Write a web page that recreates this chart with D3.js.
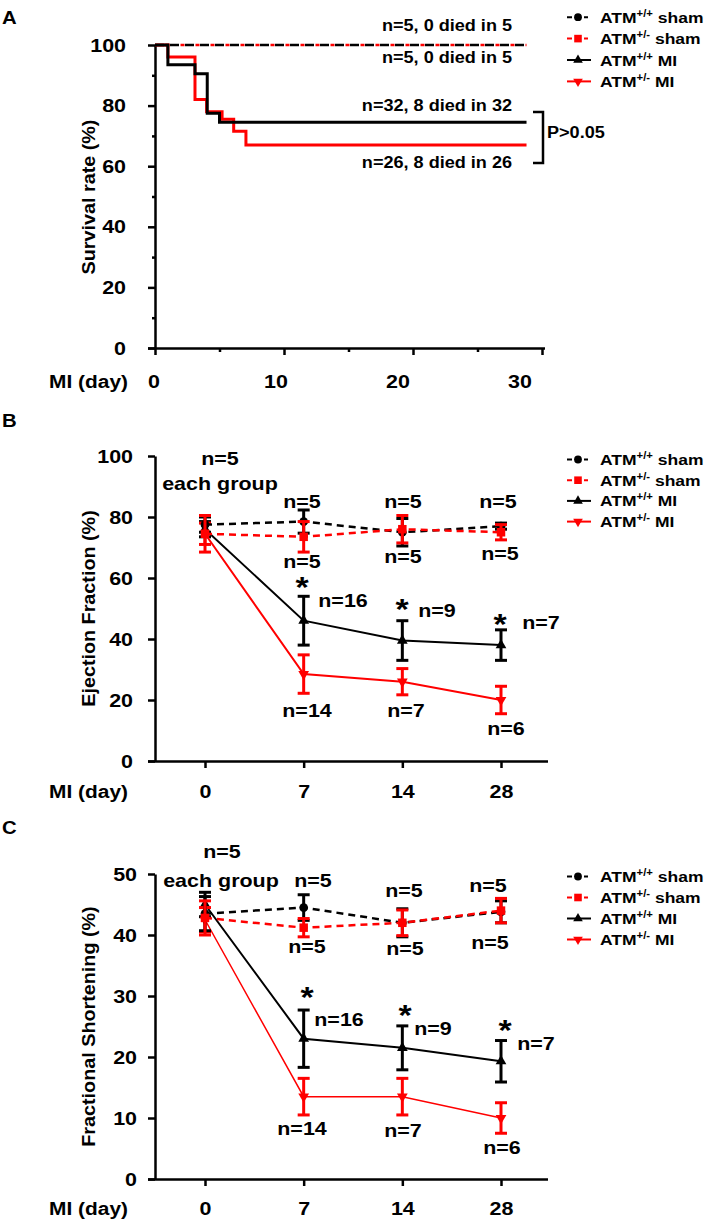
<!DOCTYPE html>
<html>
<head>
<meta charset="utf-8">
<script src="https://cdn.jsdelivr.net/npm/d3@7"></script>
<style>
  body { margin: 0; background: #fff; }
  svg { display: block; font-family: 'Liberation Sans', Arial, sans-serif; font-weight: bold; }
  text { fill: #000; white-space: pre; }
  .axis path, .axis line { stroke: #000; stroke-width: 2.5; }
  .axis text { font-family: 'Liberation Sans', Arial, sans-serif; font-weight: bold; font-size: 19px; fill: #000; }
</style>
</head>
<body>
<div id="chart"></div>
<script>
// ---------------------------------------------------------------
// Data.
// Panel A: Kaplan-Meier survival (%), step times in days.
const survWtMiDays = [0, 1, 3.1, 4.05, 5, 28.8];
const survWtMi = [100, 93.5, 90.5, 77.5, 74.5, 74.5];
const survHetMiDays = [0, 1, 3.1, 4, 5.2, 6.1, 7.05, 28.8];
const survHetMi = [100, 96, 82, 78, 75.5, 71.5, 67, 67];
const survShamDays = [0, 28.8];
const survSham = [100, 100];
const survTicks = [0, 10, 20, 30];
const survNotes = ['n=5, 0 died in 5', 'n=5, 0 died in 5', 'n=32, 8 died in 32', 'n=26, 8 died in 26'];
const survP = 'P>0.05';

// Panels B and C: MI day categories.
const days = ['0', '7', '14', '28'];

// Ejection fraction (%), mean and error.
const efShamWt = [77.5, 78.5, 75, 77];
const efShamWtErr = [2.5, 3.8, 4.5, 1];
const efShamHet = [74.5, 73.5, 76, 75];
const efShamHetErr = [6, 5, 4.5, 2.5];
const efMiWt = [76, 46, 39.5, 38];
const efMiWtErr = [2.5, 8, 6.5, 5];
const efMiHet = [74.5, 28.5, 26, 20];
const efMiHetErr = [3.5, 6.3, 4.3, 4.5];

// Fractional shortening (%), mean and error.
const fsShamWt = [43.5, 44.5, 42, 43.8];
const fsShamWtErr = [2.8, 2.1, 2.3, 1.8];
const fsShamHet = [42.8, 41.2, 42, 44];
const fsShamHetErr = [2.8, 1.5, 2.1, 2];
const fsMiWt = [45, 23, 21.5, 19.3];
const fsMiWtErr = [2, 4.7, 3.6, 3.4];
const fsMiHet = [42.5, 13.5, 13.5, 10];
const fsMiHetErr = [2, 3, 3, 2.5];

const efTicks = [0, 20, 40, 60, 80, 100];
const fsTicks = [0, 10, 20, 30, 40, 50];

// n labels per panel.
const shamNotes = ['n=5', 'each group'];
const miWtNotes = ['n=16', 'n=9', 'n=7'];
const miHetNotes = ['n=14', 'n=7', 'n=6'];

const legendLabels = [
  ['ATM', '+/+', ' sham'],
  ['ATM', '+/-', ' sham'],
  ['ATM', '+/+', ' MI'],
  ['ATM', '+/-', ' MI'],
];

// ---------------------------------------------------------------
const RED = '#ff0000';
const W = 709, H = 1223;
const SX = 1.13; // the figure's lettering is horizontally stretched

const groups = [
  { color: '#000', dash: true, symbol: d3.symbolCircle, size: 60, rot: 0 },
  { color: RED, dash: true, symbol: d3.symbolSquare, size: 72, rot: 0 },
  { color: '#000', dash: false, symbol: d3.symbolTriangle, size: 50, rot: 0 },
  { color: RED, dash: false, symbol: d3.symbolTriangle, size: 50, rot: 180 },
];

const svg = d3.select('#chart').append('svg').attr('width', W).attr('height', H);
svg.append('rect').attr('width', W).attr('height', H).attr('fill', '#fff');

function label(g, x, y, s, size, anchor) {
  return g.append('text')
    .attr('transform', `translate(${x},${y}) scale(${SX},1)`)
    .attr('text-anchor', anchor || 'start')
    .style('font-size', size + 'px')
    .text(s);
}

function yTitle(g, x, y, s) {
  g.append('text')
    .attr('transform', `translate(${x},${y}) rotate(-90) scale(${SX},1)`)
    .attr('text-anchor', 'middle')
    .style('font-size', '17.5px')
    .text(s);
}

function stretchTicks(axisG, left) {
  axisG.selectAll('.tick text').each(function () {
    const t = d3.select(this);
    if (left) t.attr('x', +t.attr('x') / SX);
    t.attr('transform', `scale(${SX},1)`);
  });
}

function star(g, x, yc) {
  // '*' sits high in the em box, shift baseline so the glyph centre lands on yc
  label(g, x, yc + 17, '*', 30, 'middle');
}

function legend(g, x, baseline0, step) {
  groups.forEach((s, k) => {
    const yb = baseline0 + k * step;
    const yc = yb - 5.5;
    g.append('line')
      .attr('x1', x).attr('x2', x + 24).attr('y1', yc).attr('y2', yc)
      .attr('stroke', s.color).attr('stroke-width', 2)
      .attr('stroke-dasharray', s.dash ? '5,12,4,10' : null);
    g.append('path')
      .attr('d', d3.symbol(s.symbol, s.size * 0.8)())
      .attr('transform', `translate(${x + 11},${yc}) rotate(${s.rot})`)
      .attr('fill', s.color);
    const t = g.append('text')
      .attr('transform', `translate(${x + 33},${yb}) scale(${SX},1)`)
      .style('font-size', '15.5px');
    t.append('tspan').text(legendLabels[k][0]);
    t.append('tspan').text(legendLabels[k][1]).style('font-size', '10px').attr('dy', -6);
    t.append('tspan').text(legendLabels[k][2]).attr('dy', 6);
  });
}

// ---------------------------------------------------------------
// Panel A
(function panelA() {
  const g = svg.append('g');
  const x = d3.scaleLinear().domain([0, 30]).range([155, 542]);
  const xLab = d3.scaleLinear().domain([0, 30]).range([154, 520]);
  const y = d3.scaleLinear().domain([0, 100]).range([348, 45]);

  const gy = g.append('g').attr('class', 'axis').attr('transform', 'translate(155,0)')
    .call(d3.axisLeft(y).tickValues(d3.range(0, 101, 20)).tickSize(7).tickPadding(22).tickSizeOuter(0));
  stretchTicks(gy, true);
  g.append('g').attr('class', 'axis').attr('transform', 'translate(155,0)')
    .call(d3.axisLeft(y).tickValues(d3.range(10, 100, 20)).tickSize(3).tickFormat('').tickSizeOuter(0))
    .select('.domain').remove();

  const gx = g.append('g').attr('class', 'axis').attr('transform', 'translate(0,348)')
    .call(d3.axisBottom(x).tickValues(survTicks).tickSize(7).tickFormat('').tickSizeOuter(0));
  gx.select('.domain').attr('d', 'M148,0.5H545');
  g.append('g').attr('class', 'axis').attr('transform', 'translate(0,348)')
    .call(d3.axisBottom(x).tickValues([5, 15, 25]).tickSize(4).tickFormat('').tickSizeOuter(0))
    .select('.domain').remove();
  survTicks.forEach(v => label(g, xLab(v), 388, String(v), 19, 'middle'));

  label(g, 128, 388, 'MI (day)', 18.5, 'end');
  yTitle(g, 95, 197, 'Survival rate (%)');
  label(g, 2, 23.5, 'A', 18, 'start');

  const step = d3.line().curve(d3.curveStepAfter).x(d => x(d[0])).y(d => y(d[1]));
  const sham = d3.zip(survShamDays, survSham);
  g.append('path').attr('d', step(sham)).attr('fill', 'none')
    .attr('stroke', '#000').attr('stroke-width', 2.5).attr('stroke-dasharray', '9,6');
  g.append('path').attr('d', step(sham)).attr('fill', 'none')
    .attr('stroke', RED).attr('stroke-width', 2.5).attr('stroke-dasharray', '4,11')
    .attr('stroke-dashoffset', -10.5);
  g.append('path').attr('d', step(d3.zip(survHetMiDays, survHetMi))).attr('fill', 'none')
    .attr('stroke', RED).attr('stroke-width', 3);
  g.append('path').attr('d', step(d3.zip(survWtMiDays, survWtMi))).attr('fill', 'none')
    .attr('stroke', '#000').attr('stroke-width', 3);

  const noteBase = [31, 63, 111, 168];
  survNotes.forEach((s, i) => label(g, 512, noteBase[i], s, 16, 'end'));

  g.append('path').attr('d', 'M533,112H543V163H533').attr('fill', 'none')
    .attr('stroke', '#000').attr('stroke-width', 2.5);
  label(g, 547, 138, survP, 16, 'start');

  legend(g, 567, 22.7, 21.4);
})();

// ---------------------------------------------------------------
// Panels B and C
function linePanel(cfg) {
  const g = svg.append('g');
  const x = d3.scaleLinear().domain([0, 3]).range([205, 501]);
  const y = d3.scaleLinear().domain([0, cfg.max]).range([cfg.bottom, cfg.top]);

  const gy = g.append('g').attr('class', 'axis').attr('transform', 'translate(155,0)')
    .call(d3.axisLeft(y).tickValues(cfg.ticks).tickSize(7).tickPadding(cfg.yPad).tickSizeOuter(0));
  stretchTicks(gy, true);
  const gx = g.append('g').attr('class', 'axis').attr('transform', `translate(0,${cfg.bottom})`)
    .call(d3.axisBottom(x).tickValues([0, 1, 2, 3]).tickFormat(i => days[i])
      .tickSize(7).tickPadding(cfg.xPad).tickSizeOuter(0));
  gx.select('.domain').attr('d', 'M148,0.5H548');
  stretchTicks(gx, false);

  label(g, 128, cfg.bottom + cfg.xPad + 20.5, 'MI (day)', 18.5, 'end');
  yTitle(g, 95, (cfg.top + cfg.bottom) / 2, cfg.title);
  label(g, 2, cfg.letterY, cfg.letter, 18, 'start');

  const line = d3.line().x((d, i) => x(i)).y(d => y(d));
  const order = [2, 3, 0, 1];
  order.forEach(k => {
    const s = groups[k];
    const vals = cfg.series[k], errs = cfg.errors[k];
    g.append('path').attr('d', line(vals)).attr('fill', 'none')
      .attr('stroke', s.color)
      .attr('stroke-width', s.dash ? 2.5 : cfg.miWidth[k - 2])
      .attr('stroke-dasharray', s.dash ? '7,5' : null);
    const pts = g.append('g').selectAll('g').data(vals).join('g')
      .attr('transform', (d, i) => `translate(${x(i)},0)`);
    pts.append('line')
      .attr('y1', (d, i) => y(d - errs[i])).attr('y2', (d, i) => y(d + errs[i]))
      .attr('stroke', s.color).attr('stroke-width', 3);
    pts.append('line').attr('x1', -6).attr('x2', 6)
      .attr('y1', (d, i) => y(d + errs[i])).attr('y2', (d, i) => y(d + errs[i]))
      .attr('stroke', s.color).attr('stroke-width', 3);
    pts.append('line').attr('x1', -6).attr('x2', 6)
      .attr('y1', (d, i) => y(d - errs[i])).attr('y2', (d, i) => y(d - errs[i]))
      .attr('stroke', s.color).attr('stroke-width', 3);
    pts.append('path')
      .attr('d', d3.symbol(s.symbol, s.size)())
      .attr('transform', d => `translate(0,${y(d)}) rotate(${s.rot})`)
      .attr('fill', s.color);
  });

  cfg.notes.forEach(n => label(g, n[1], n[2], n[0], 19, 'middle'));
  cfg.stars.forEach(p => star(g, p[0], p[1]));
  legend(g, 567, cfg.legendY, cfg.legendStep);
}

linePanel({
  title: 'Ejection Fraction (%)', letter: 'B', letterY: 427,
  max: 100, ticks: efTicks, top: 456, bottom: 761, yPad: 15, xPad: 16.5,
  series: [efShamWt, efShamHet, efMiWt, efMiHet],
  errors: [efShamWtErr, efShamHetErr, efMiWtErr, efMiHetErr],
  miWidth: [2, 2],
  notes: [
    [shamNotes[0], 220, 465], [shamNotes[1], 220, 490],
    [shamNotes[0], 302, 508], [shamNotes[0], 302, 568],
    [shamNotes[0], 403, 508], [shamNotes[0], 403, 563],
    [shamNotes[0], 498, 508], [shamNotes[0], 500, 560],
    [miWtNotes[0], 343, 607], [miWtNotes[1], 437, 617], [miWtNotes[2], 541, 629],
    [miHetNotes[0], 307, 717], [miHetNotes[1], 406, 717], [miHetNotes[2], 506, 735],
  ],
  stars: [[302, 580], [402, 602], [500, 617]],
  legendY: 465, legendStep: 20.7,
});

linePanel({
  title: 'Fractional Shortening (%)', letter: 'C', letterY: 834,
  max: 50, ticks: fsTicks, top: 874, bottom: 1179, yPad: 11, xPad: 15.5,
  series: [fsShamWt, fsShamHet, fsMiWt, fsMiHet],
  errors: [fsShamWtErr, fsShamHetErr, fsMiWtErr, fsMiHetErr],
  miWidth: [2, 1.5],
  notes: [
    [shamNotes[0], 222, 858], [shamNotes[1], 221, 887],
    [shamNotes[0], 313, 887], [shamNotes[0], 307, 953],
    [shamNotes[0], 404, 897], [shamNotes[0], 405, 955],
    [shamNotes[0], 488, 892], [shamNotes[0], 490, 949],
    [miWtNotes[0], 339, 1026], [miWtNotes[1], 433, 1035], [miWtNotes[2], 536, 1050],
    [miHetNotes[0], 302, 1135], [miHetNotes[1], 403, 1137], [miHetNotes[2], 502, 1154],
  ],
  stars: [[307, 990], [405, 1008], [505, 1023]],
  legendY: 882, legendStep: 21,
});
</script>
</body>
</html>
